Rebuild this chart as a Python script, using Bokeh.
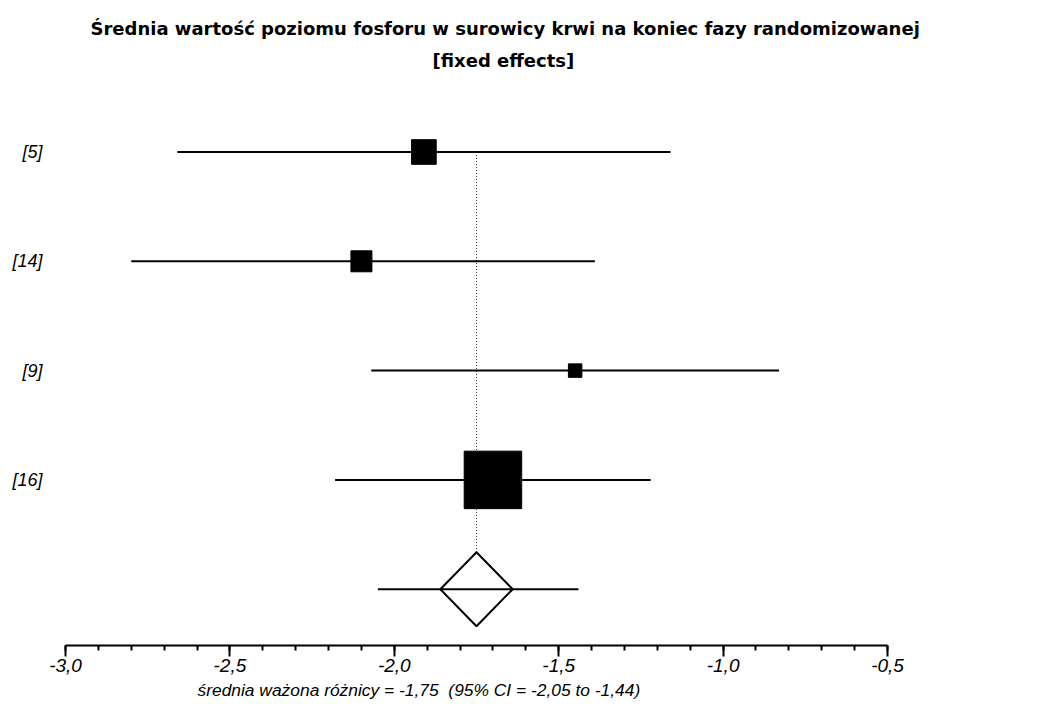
from bokeh.plotting import figure
from bokeh.models import Range1d, FixedTicker, LinearAxis, Title, ColumnDataSource
from bokeh.embed import file_html
from bokeh.resources import INLINE

# ---- data ----
studies = ["[5]", "[14]", "[9]", "[16]"]
estimates = [-1.91, -2.10, -1.45, -1.70]
ci_low = [-2.66, -2.80, -2.07, -2.18]
ci_high = [-1.16, -1.39, -0.83, -1.22]
weights = [13.4, 9.7, 4.0, 72.9]          # % weight (square area)
pooled = -1.75
pooled_low = -2.05
pooled_high = -1.44
diamond_low = -1.86
diamond_high = -1.64
major_ticks = [-3.0, -2.5, -2.0, -1.5, -1.0, -0.5]
minor_ticks = [round(-3.0 + 0.1 * i, 1) for i in range(26)]
tick_labels = {t: f"{t:.1f}".replace(".", ",") for t in major_ticks}
title1 = "Średnia wartość poziomu fosforu w surowicy krwi na koniec fazy randomizowanej"
title2 = "[fixed effects]"
fmt = lambda v: f"{v:.2f}".replace(".", ",")
footer = f"średnia ważona różnicy = {fmt(pooled)}\u00a0 (95% CI = {fmt(pooled_low)} to {fmt(pooled_high)})"

# ---- layout ----
W, H = 1043, 709
FRAME_TOP = 79
FRAME_BOTTOM = 645
ROW0_PX = 151.5
ROW_PX = 109.3
rows = list(range(len(studies)))
pooled_row = len(studies)

y_top = (FRAME_TOP - ROW0_PX) / ROW_PX
y_bot = (FRAME_BOTTOM - ROW0_PX) / ROW_PX

p = figure(width=W, height=H, output_backend="svg", toolbar_location=None,
           x_range=Range1d(-3.0, -0.5), y_range=Range1d(y_bot, y_top),
           min_border_left=65, min_border_right=156, min_border_top=FRAME_TOP,
           min_border_bottom=H - FRAME_BOTTOM, x_axis_location=None, y_axis_location=None)
p.outline_line_color = None
p.xgrid.visible = False
p.ygrid.visible = False
p.background_fill_color = "white"
p.border_fill_color = "white"

# titles (added nearest-first)
p.add_layout(Title(text=title2, text_font="DejaVu Sans", text_font_style="bold",
                   text_font_size="18px", text_color="black", align="left", offset=367,
                   standoff=18), "above")
p.add_layout(Title(text=title1, text_font="DejaVu Sans", text_font_style="bold",
                   text_font_size="18px", text_color="black", align="left", offset=25,
                   standoff=0), "above")

# x axis
xa = LinearAxis(ticker=FixedTicker(ticks=major_ticks, minor_ticks=minor_ticks),
                major_label_overrides=tick_labels)
xa.axis_line_width = 2
xa.major_tick_line_width = 2
xa.minor_tick_line_width = 2
xa.major_tick_out = 11
xa.major_tick_in = 0
xa.minor_tick_out = 5
xa.minor_tick_in = 0
xa.major_label_standoff = 2
xa.major_label_text_font = "Liberation Sans"
xa.major_label_text_font_style = "italic"
xa.major_label_text_font_size = "19px"
xa.major_label_text_color = "black"
p.add_layout(xa, "below")
p.add_layout(Title(text=footer, text_font="Liberation Sans", text_font_style="italic",
                   text_font_size="17.4px", text_color="black", align="left", offset=132,
                   standoff=6), "below")

# y axis with study labels
ya = LinearAxis(ticker=FixedTicker(ticks=rows),
                major_label_overrides={r: s for r, s in zip(rows, studies)})
ya.axis_line_color = None
ya.major_tick_line_color = None
ya.minor_tick_line_color = None
ya.major_tick_out = 0
ya.major_tick_in = 0
ya.major_label_standoff = 23
ya.major_label_text_font = "Liberation Sans"
ya.major_label_text_font_style = "italic"
ya.major_label_text_font_size = "18px"
ya.major_label_text_color = "black"
p.add_layout(ya, "left")

# reference dotted line at pooled estimate
half_h = 37 / ROW_PX
p.segment(x0=[pooled], y0=[0], x1=[pooled], y1=[pooled_row - half_h],
          line_color="#333333", line_width=1, line_dash="1 2")

# study CIs and squares
src = ColumnDataSource(dict(y=rows, est=estimates, lo=ci_low, hi=ci_high,
                            size=[6.735 * w ** 0.5 for w in weights]))
p.segment(x0="lo", y0="y", x1="hi", y1="y", source=src, line_color="black", line_width=2)
p.scatter(x="est", y="y", size="size", marker="square", source=src,
          fill_color="black", line_color="black", line_width=1)

# pooled diamond
p.patch(x=[diamond_low, pooled, diamond_high, pooled],
        y=[pooled_row, pooled_row - half_h, pooled_row, pooled_row + half_h],
        fill_color="white", line_color="black", line_width=2)
p.segment(x0=[pooled_low], y0=[pooled_row], x1=[pooled_high], y1=[pooled_row],
          line_color="black", line_width=2)

open("out.html", "w").write(file_html(p, INLINE))
